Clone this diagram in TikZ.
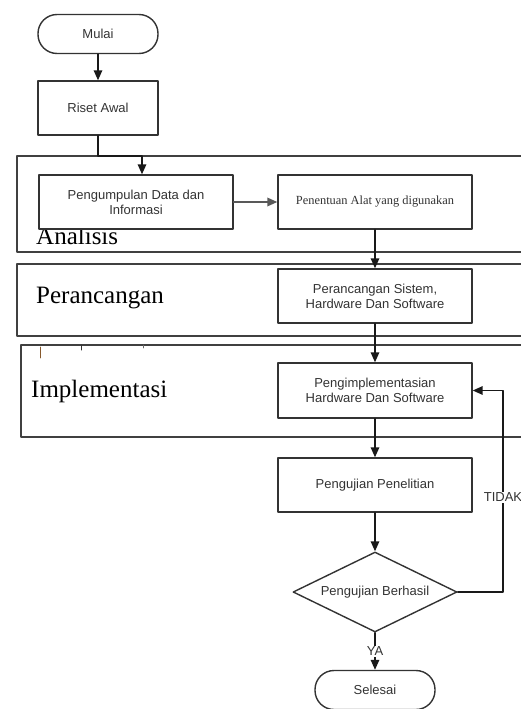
\documentclass[tikz,border=0pt]{standalone}
\usepackage{fontspec}
\setmainfont{Liberation Serif}
\setsansfont{Liberation Sans}
\usetikzlibrary{arrows.meta,shapes.geometric}

\begin{document}
\begin{tikzpicture}[line cap=round,line join=round,>={Triangle[length=10pt,width=8.5pt]},x=1pt,y=-1pt,
  lane/.style={draw=black!75,line width=1.8pt},
  lanelabel/.style={anchor=base west,inner sep=0pt,font=\rmfamily\fontsize{25}{28}\selectfont},
  proses/.style={draw=black!80,line width=1.4pt,fill=white,minimum width=194pt,minimum height=54pt,inner sep=2pt,align=center,text=black!80,font=\sffamily\fontsize{13}{15}\selectfont},
  ujung/.style={proses,rounded corners=19pt,minimum width=120pt,minimum height=39pt},
  keputusan/.style={proses,diamond,aspect=2,inner sep=0pt,minimum width=164pt,minimum height=80pt},
  alur/.style={->,draw=black!90,line width=1.5pt},
  ket/.style={fill=white,inner sep=1pt,text=black!80,font=\sffamily\fontsize{13}{15}\selectfont}]
                                      \useasboundingbox (0,0) rectangle (521,709);
                                      \clip (0,0) rectangle (521,709);
                                      \draw[lane] (17,156) rectangle (540,252);
                                      \draw[lane] (17,264) rectangle (540,336);
                                      \draw[lane] (21,345) rectangle (540,437);
                                      \node[lanelabel] (analisis) at (36,244) {Analisis};
                                      \node[lanelabel] (perancangan) at (36,303) {Perancangan};
                                      \node[lanelabel] (implementasi) at (31,397) {Implementasi};
                                      \draw[brown!70!black,line width=0.8pt] (40,347) -- (40,358);
                                      \draw[black!80,line width=1pt] (81,345) -- (81,350);
                                      \draw[black!60,line width=0.8pt] (143,345) -- (143,348);
                                      \node[ujung] (mulai) at (98,34) {Mulai};
                                      \node[proses,minimum width=120pt] (riset) at (98,108) {Riset Awal};
                                      \node[proses] (kumpul) at (136,202) {Pengumpulan Data dan\\Informasi};
                                      \node[proses,font=\rmfamily\fontsize{12.4}{15}\selectfont] (alat) at (375,202) {Penentuan Alat yang digunakan};
                                      \node[proses] (rancang) at (375,296) {Perancangan Sistem,\\Hardware Dan Software};
                                      \node[proses,minimum height=55pt] (impl) at (375,390.5) {Pengimplementasian\\Hardware Dan Software};
                                      \node[proses] (uji) at (375,485) {Pengujian Penelitian};
                                      \node[keputusan] (berhasil) at (375,592) {Pengujian Berhasil};
                                      \node[ujung] (selesai) at (375,690) {Selesai};
                                      \coordinate (belok) at (142,156);
                                      \coordinate (balik) at (503,592);
                                      \draw[alur] (mulai) -- (riset);
                                      \draw[alur] (riset.south) |- (belok) -- (belok |- kumpul.north);
                                      \draw[alur,draw=black!65,line width=1.8pt] (kumpul) -- (alat);
                                      \draw[alur] (alat) -- (rancang);
                                      \draw[alur] (rancang) -- (impl);
                                      \draw[alur] (impl) -- (uji);
                                      \draw[alur] (uji) -- (berhasil);
                                      \draw[alur] (berhasil.east) -- (balik) -- node[ket,pos=0.47] (tidak) {TIDAK} (balik |- impl.east) -- (impl.east);
                                      \draw[alur] (berhasil.south) -- node[ket] (ya) {YA} (selesai.north);
                                  \end{tikzpicture}
\end{document}
